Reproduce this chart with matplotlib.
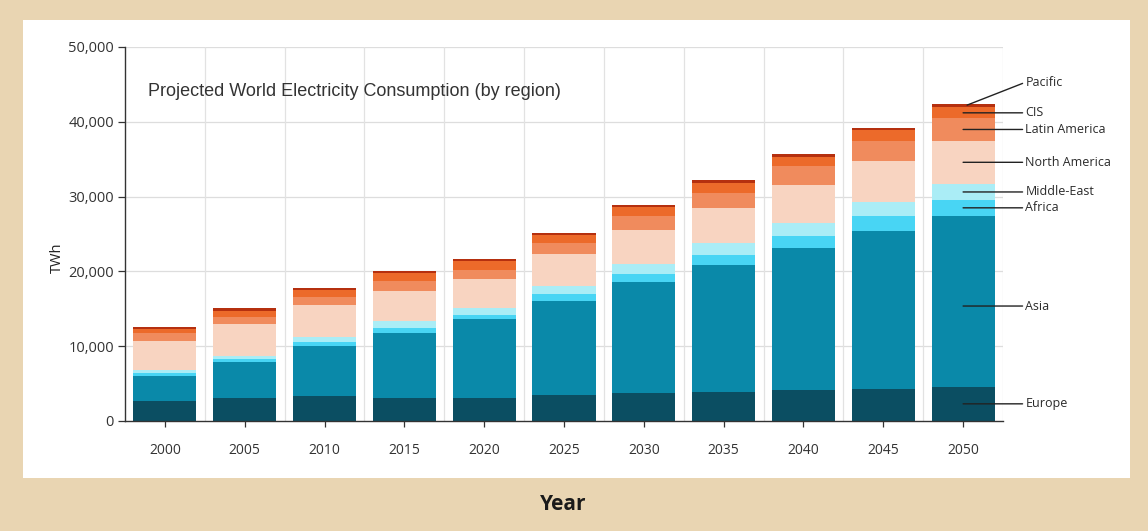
import matplotlib
matplotlib.use("Agg")
import matplotlib.pyplot as plt
from matplotlib.patches import Rectangle
import numpy as np

# values, TWh
years = ["2000", "2005", "2010", "2015", "2020", "2025", "2030", "2035", "2040", "2045", "2050"]
regions = ["Europe", "Asia", "Africa", "Middle-East", "North America", "Latin America", "CIS", "Pacific"]
europe = [2700, 3120, 3340, 3120, 3120, 3480, 3790, 3880, 4140, 4240, 4590]
asia = [3350, 4770, 6690, 8690, 10480, 12600, 14790, 16940, 19030, 21200, 22860]
africa = [400, 400, 570, 580, 530, 900, 1070, 1420, 1560, 2010, 2100]
middle_east = [380, 400, 590, 980, 940, 1070, 1340, 1520, 1780, 1790, 2140]
north_america = [3870, 4240, 4280, 4050, 3960, 4280, 4510, 4720, 5040, 5560, 5790]
latin_america = [1000, 930, 1070, 1340, 1160, 1430, 1910, 2040, 2550, 2640, 2990]
cis = [650, 890, 980, 990, 1160, 1070, 1160, 1340, 1200, 1470, 1460]
pacific = [250, 320, 310, 300, 270, 270, 310, 360, 400, 310, 450]

series = [europe, asia, africa, middle_east, north_america, latin_america, cis, pacific]
colors = ["#0b4e62", "#0a89a9", "#48d5f4", "#aaedf6", "#f8d4c1", "#f08b5d", "#ec6a2a", "#b5300f"]

beige = "#e9d5b2"
fig = plt.figure(figsize=(11.48, 5.31), dpi=100, facecolor=beige)
panel = Rectangle((23 / 1148, 1 - 478 / 531), (1130 - 23) / 1148, (478 - 20) / 531,
                  transform=fig.transFigure, facecolor="white", edgecolor="none", zorder=-10)
fig.patches.append(panel)

ax = fig.add_axes([125 / 1148, 1 - 421 / 531, 878 / 1148, 374 / 531])
ax.set_zorder(2)
ax.set_facecolor("none")

x = np.arange(len(years))
bottom = np.zeros(len(years))
for vals, col in zip(series, colors):
    ax.bar(x, vals, width=0.79, bottom=bottom, color=col, edgecolor="none", zorder=3)
    bottom += np.array(vals)

ax.set_xlim(-0.5, 10.5)
ax.set_ylim(0, 50000)
ax.set_yticks(range(0, 50001, 10000))
ax.set_yticklabels(["{:,}".format(v) for v in range(0, 50001, 10000)])
ax.set_xticks(x)
ax.set_xticklabels(years)

# grid: horizontal at ticks, vertical between bars
for v in range(10000, 50001, 10000):
    ax.axhline(v, color="#dddddd", lw=0.9, zorder=1)
for gx in np.arange(0.5, 10.6, 1.0):
    ax.axvline(gx, color="#e2e2e2", lw=0.9, zorder=1)

for s in ["top", "right"]:
    ax.spines[s].set_visible(False)
for s in ["left", "bottom"]:
    ax.spines[s].set_color("#333333")
    ax.spines[s].set_linewidth(1.0)
    ax.spines[s].set_zorder(4)

ax.tick_params(axis="y", length=5, width=0.9, pad=3, colors="#333333", labelsize=10.5)
ax.tick_params(axis="x", length=4, width=0.9, pad=12, colors="#333333", labelsize=10)
for lab in ax.get_xticklabels() + ax.get_yticklabels():
    lab.set_fontfamily("Open Sans")

ax.text(0.026, 0.882, "Projected World Electricity Consumption (by region)",
        transform=ax.transAxes, fontsize=13, family="Liberation Sans", color="#333333", va="center")

fig.text(57 / 1148, 1 - 258 / 531, "TWh", rotation=90, fontsize=10.5, family="Open Sans",
         color="#222222", ha="center", va="center")
fig.text(563 / 1148, 1 - 505 / 531, "Year", fontsize=15, family="Open Sans", weight="bold",
         color="#1a1a1a", ha="center", va="center")

# labels next to the 2050 bar
last = len(years) - 1
cum = 0
for name, vals in zip(regions, series):
    mid = cum + vals[last] / 2
    top = cum + vals[last]
    cum = top
    if name == "Pacific":
        start = (10.05, top - 150)
        ty = top + 2900
    elif name == "Asia":
        start = (10.0, mid - 650)
        ty = mid - 650
    else:
        start = (10.0, mid)
        ty = mid
    ax.annotate(name, xy=start, xytext=(10.78, ty), textcoords="data",
                fontsize=9, family="Open Sans", color="#2a2a2a", va="center", ha="left",
                annotation_clip=False,
                arrowprops=dict(arrowstyle="-", color="#222222", lw=1.0,
                                shrinkA=0, shrinkB=0, relpos=(0, 0.5)),
                zorder=6)

fig.savefig("out.png", dpi=100, facecolor=beige)
